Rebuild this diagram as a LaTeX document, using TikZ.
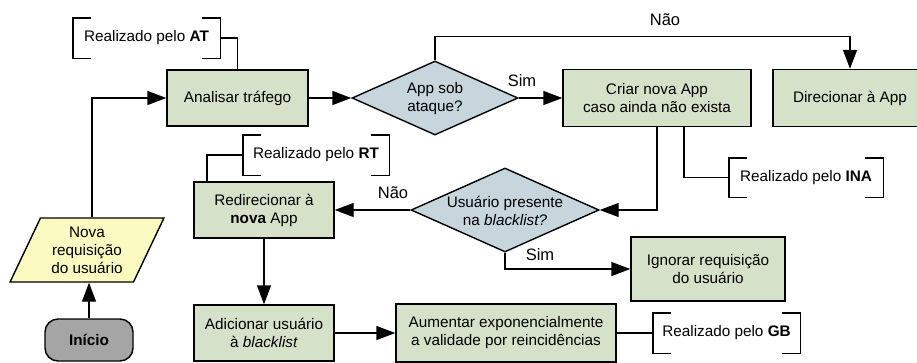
\documentclass[tikz,border=0pt]{standalone}
\usepackage{fontspec}
\setmainfont{Liberation Sans}
\usetikzlibrary{arrows.meta,shapes.geometric}
\definecolor{boxgreen}{RGB}{213,226,201}
\definecolor{diagblue}{RGB}{199,213,221}
\definecolor{inyellow}{RGB}{250,250,192}
\definecolor{startgray}{RGB}{165,165,165}
\newcommand{\brk}[1]{%
  \draw[conn] ([xshift=18pt]#1.north west) -- (#1.north west) -- (#1.south west) -- ([xshift=18pt]#1.south west);
  \draw[conn] ([xshift=-18pt]#1.north east) -- (#1.north east) -- (#1.south east) -- ([xshift=-18pt]#1.south east);}
\tikzset{
  every node/.style={font=\fontsize{15.3}{18}\selectfont},
  proc/.style={draw, fill=boxgreen, line width=1.4pt, align=center, inner sep=0pt},
  decision/.style={draw, fill=diagblue, diamond, line width=1.4pt, inner sep=0pt},
  io/.style={draw, fill=inyellow, trapezium, trapezium left angle=63.4, trapezium right angle=116.6, trapezium stretches=true, line width=1.4pt, align=center, inner sep=0pt},
  startnode/.style={draw, fill=startgray, rounded corners=13pt, line width=1.4pt, inner sep=0pt, font=\fontsize{15.3}{18}\selectfont\bfseries},
  note/.style={align=center, inner sep=0pt},
  arr/.style={line width=1.4pt, -{Triangle[length=19pt,width=14pt]}},
  conn/.style={line width=1.4pt},
  lbl/.style={font=\fontsize{16.5}{19}\selectfont, inner sep=0pt},
}
\begin{document}
\begin{tikzpicture}[x=1pt,y=-1pt]
\useasboundingbox (0,0) rectangle (917,362);
\clip (0,0) rectangle (917,362);

\node[proc, minimum width=141pt, minimum height=56pt] (a) at (237.5,98) {Analisar tráfego};
\node[decision, minimum width=166pt, minimum height=74pt] (d1) at (435,98) {};
\node[note] (d1t) at (435,98.5) {App sob\\ataque?};
\node[proc, minimum width=188pt, minimum height=57pt] (c) at (657,98) {Criar nova App\\caso ainda não exista};
\node[proc, minimum width=154pt, minimum height=57pt] (dir) at (850,98) {Direcionar à App};
\node[decision, minimum width=188pt, minimum height=84pt] (d2) at (505,210) {};
\node[note] (d2t) at (505,211) {Usuário presente\\na \textit{blacklist?}};
\node[proc, minimum width=140pt, minimum height=56pt] (r) at (264,210) {Redirecionar à\\\textbf{nova} App};
\node[proc, minimum width=154pt, minimum height=64pt] (ig) at (708,269) {Ignorar requisição\\do usuário};
\node[proc, minimum width=140pt, minimum height=56pt] (ad) at (264,333) {Adicionar usuário\\à \textit{blacklist}};
\node[proc, minimum width=220pt, minimum height=58pt] (aum) at (506,333) {Aumentar exponencialmente\\a validade por reincidências};
\node[io, minimum width=154pt, minimum height=64pt] (p) at (87,250) {Nova\\requisição\\do usuário};
\node[startnode, minimum width=88pt, minimum height=42pt] (s) at (89,340) {Início};

\node[note, minimum width=147pt, minimum height=40pt] (at) at (146.5,38) {Realizado pelo \textbf{AT}};
\node[note, minimum width=146pt, minimum height=40pt] (rt) at (316,155) {Realizado pelo \textbf{RT}};
\node[note, minimum width=154pt, minimum height=39pt] (ina) at (806,177.5) {Realizado pelo \textbf{INA}};
\node[note, minimum width=147pt, minimum height=40pt] (gb) at (726.5,333) {Realizado pelo \textbf{GB}};
\brk{at}\brk{rt}\brk{ina}\brk{gb}

\node[lbl] (n1) at (665,20) {Não};
\node[lbl] (s1) at (522,81) {Sim};
\node[lbl] (n2) at (393,193) {Não};
\node[lbl] (s2) at (540,255) {Sim};

\draw[conn] (at.east) -| (a.north);
\draw[arr] (a.east) -- (d1.west);
\draw[arr] (d1.east) -- (c.west);
\draw[arr] (d1.north) -- ++(0,-24) -| (dir.north);
\draw[conn] ([xshift=27pt]c.south) |- (ina.west);
\draw[arr] (c.south) |- (d2.east);
\draw[arr] (d2.west) -- (r.east);
\draw[arr] (d2.south) |- (ig.west);
\draw[conn] ([xshift=-57pt]r.north) |- (rt.west);
\draw[arr] (r.south) -- (ad.north);
\draw[arr] (ad.east) -- (aum.west);
\draw[conn] (aum.east) -- (gb.west);
\draw[arr] (s.north) -- (s.north |- p.south);
\draw[arr] ([xshift=5pt]p.north) |- (a.west);
\end{tikzpicture}
\end{document}
